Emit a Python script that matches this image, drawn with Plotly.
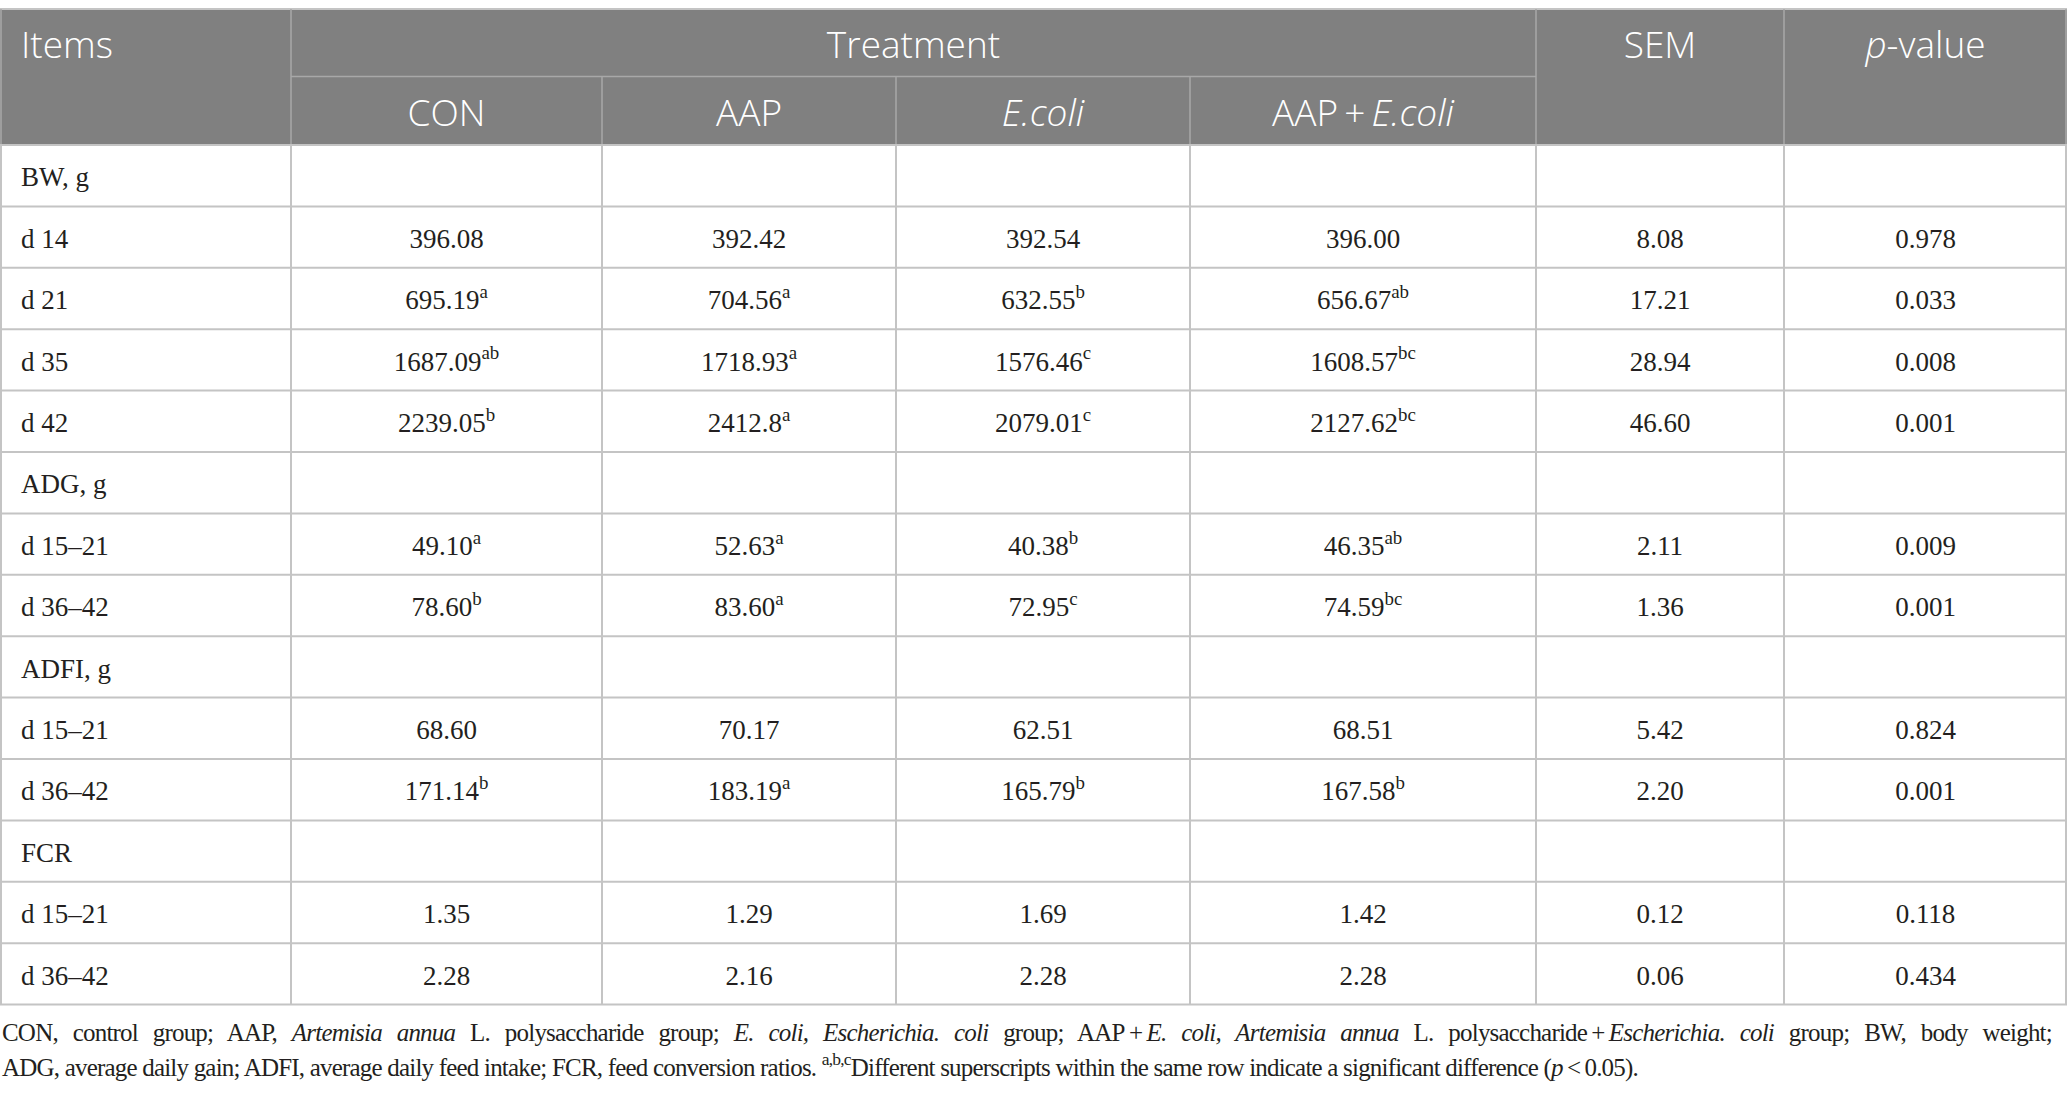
import numpy as np
import plotly.graph_objects as go

# ---------------- data ----------------
row_labels = ["BW, g", "d 14", "d 21", "d 35", "d 42",
              "ADG, g", "d 15\u201321", "d 36\u201342",
              "ADFI, g", "d 15\u201321", "d 36\u201342",
              "FCR", "d 15\u201321", "d 36\u201342"]

con = ["", "396.08", "695.19", "1687.09", "2239.05", "", "49.10", "78.60", "", "68.60", "171.14", "", "1.35", "2.28"]
con_sup = ["", "", "a", "ab", "b", "", "a", "b", "", "", "b", "", "", ""]
aap = ["", "392.42", "704.56", "1718.93", "2412.8", "", "52.63", "83.60", "", "70.17", "183.19", "", "1.29", "2.16"]
aap_sup = ["", "", "a", "a", "a", "", "a", "a", "", "", "a", "", "", ""]
ecoli = ["", "392.54", "632.55", "1576.46", "2079.01", "", "40.38", "72.95", "", "62.51", "165.79", "", "1.69", "2.28"]
ecoli_sup = ["", "", "b", "c", "c", "", "b", "c", "", "", "b", "", "", ""]
combo = ["", "396.00", "656.67", "1608.57", "2127.62", "", "46.35", "74.59", "", "68.51", "167.58", "", "1.42", "2.28"]
combo_sup = ["", "", "ab", "bc", "bc", "", "ab", "bc", "", "", "b", "", "", ""]
sem = ["", "8.08", "17.21", "28.94", "46.60", "", "2.11", "1.36", "", "5.42", "2.20", "", "0.12", "0.06"]
pval = ["", "0.978", "0.033", "0.008", "0.001", "", "0.009", "0.001", "", "0.824", "0.001", "", "0.118", "0.434"]

header_top = ["Items", "Treatment", "SEM", "<i>p</i>-value"]
header_sub = ["CON", "AAP", "<i>E.coli</i>", "AAP\u2009+\u2009<i>E.coli</i>"]

footnote_1 = ("CON, control group; AAP, <i>Artemisia annua</i> L. polysaccharide group; "
              "<i>E. coli, Escherichia. coli</i> group; AAP\u2009+\u2009<i>E. coli, Artemisia annua</i> "
              "L. polysaccharide\u2009+\u2009<i>Escherichia. coli</i> group; BW, body weight;")
footnote_2 = ("ADG, average daily gain; ADFI, average daily feed intake; FCR, feed conversion ratios. "
              "<sup>a,b,c</sup>Different superscripts within the same row indicate a significant "
              "difference (<i>p</i>\u2009<\u20090.05).")

# ---------------- layout constants ----------------
W, H = 2067, 1098
col_w = [291, 311, 294, 294, 346, 248, 283]
edges = np.concatenate([[0], np.cumsum(col_w)])
centers = (edges[:-1] + edges[1:]) / 2
y_top, y_mid, y_head = 9, 76.5, 145
row_h = 61.4
n_rows = len(row_labels)
row_edges = y_head + row_h * np.arange(n_rows + 1)
row_centers = (row_edges[:-1] + row_edges[1:]) / 2
text_dy = 4            # optical shift of text within a row
head_y1, head_y2 = 48.5, 117

BODY_FONT = "Liberation Serif"
HEAD_FONT = "Open Sans"
TXT = "#231f20"
HEAD_FILL = "#808080"
GRID = "#c4c4c4"
HEAD_GRID = "#a8a8a8"


def with_sup(vals, sups):
    return [v + (f"<sup>{s}</sup>" if s else "") for v, s in zip(vals, sups)]


fig = go.Figure()

# header band and lines
shapes = [dict(type="rect", xref="x", yref="y", x0=0, x1=W, y0=y_top, y1=y_head,
               fillcolor=HEAD_FILL, line=dict(width=0), layer="below")]
shapes.append(dict(type="line", xref="x", yref="y", x0=0, x1=W, y0=y_top, y1=y_top,
                   line=dict(color=GRID, width=2)))
for xe in [edges[1], edges[5], edges[6]]:
    shapes.append(dict(type="line", xref="x", yref="y", x0=xe, x1=xe, y0=y_top, y1=y_head,
                       line=dict(color=HEAD_GRID, width=1.5)))
for xe in edges[2:5]:
    shapes.append(dict(type="line", xref="x", yref="y", x0=xe, x1=xe, y0=y_mid, y1=y_head,
                       line=dict(color=HEAD_GRID, width=1.5)))
shapes.append(dict(type="line", xref="x", yref="y", x0=edges[1], x1=edges[5], y0=y_mid, y1=y_mid,
                   line=dict(color=HEAD_GRID, width=1.5)))
for xe in [1, W - 1]:
    shapes.append(dict(type="line", xref="x", yref="y", x0=xe, x1=xe, y0=y_top, y1=y_head,
                       line=dict(color=HEAD_GRID, width=1.5)))
# body grid
for ye in row_edges:
    shapes.append(dict(type="line", xref="x", yref="y", x0=0, x1=W, y0=ye, y1=ye,
                       line=dict(color=GRID, width=2)))
for xe in list(edges[1:-1]) + [1, W - 1]:
    shapes.append(dict(type="line", xref="x", yref="y", x0=xe, x1=xe, y0=y_head, y1=row_edges[-1],
                       line=dict(color=GRID, width=2)))

# header texts
head_font = dict(family=HEAD_FONT, size=37, color="white", weight=350)
fig.add_trace(go.Scatter(x=[21], y=[head_y1], mode="text", text=[header_top[0]],
                         textposition="middle right", textfont=head_font,
                         hoverinfo="skip", showlegend=False, cliponaxis=False))
fig.add_trace(go.Scatter(x=[(edges[1] + edges[5]) / 2, centers[5], centers[6]], y=[head_y1] * 3,
                         mode="text", text=header_top[1:], textposition="middle center",
                         textfont=head_font, hoverinfo="skip", showlegend=False, cliponaxis=False))
fig.add_trace(go.Scatter(x=centers[1:5], y=[head_y2] * 4, mode="text", text=header_sub,
                         textposition="middle center", textfont=head_font,
                         hoverinfo="skip", showlegend=False, cliponaxis=False))

# body texts
body_font = dict(family=BODY_FONT, size=27, color=TXT)
fig.add_trace(go.Scatter(x=[21] * n_rows, y=row_centers + text_dy, mode="text", text=row_labels,
                         textposition="middle right", textfont=body_font,
                         hoverinfo="skip", showlegend=False, cliponaxis=False))
columns = [with_sup(con, con_sup), with_sup(aap, aap_sup), with_sup(ecoli, ecoli_sup),
           with_sup(combo, combo_sup), sem, pval]
for ci, col in enumerate(columns, start=1):
    keep = [i for i, t in enumerate(col) if t]
    fig.add_trace(go.Scatter(x=[centers[ci]] * len(keep), y=row_centers[keep] + text_dy,
                             mode="text", text=[col[i] for i in keep],
                             textposition="middle center", textfont=body_font,
                             hoverinfo="skip", showlegend=False, cliponaxis=False))

foot_font = dict(family=BODY_FONT, size=25, color=TXT)
span_just = '<span style="letter-spacing:-0.8px;word-spacing:9.4px">{}</span>'
span = '<span style="letter-spacing:-0.8px">{}</span>'
annotations = [
    dict(x=0, y=1032, xref="x", yref="y", text=span_just.format(footnote_1), showarrow=False,
         xanchor="left", yanchor="middle", font=foot_font),
    dict(x=0, y=1065, xref="x", yref="y", text=span.format(footnote_2), showarrow=False,
         xanchor="left", yanchor="middle", font=foot_font),
]

fig.update_layout(
    width=W, height=H, margin=dict(l=0, r=0, t=0, b=0),
    paper_bgcolor="white", plot_bgcolor="white",
    xaxis=dict(range=[0, W], visible=False, fixedrange=True),
    yaxis=dict(range=[H, 0], visible=False, fixedrange=True),
    shapes=shapes, annotations=annotations,
)

fig.write_html("out.html", config={"displayModeBar": False},
               post_script="document.body.style.margin='0';document.body.style.overflow='hidden';")
